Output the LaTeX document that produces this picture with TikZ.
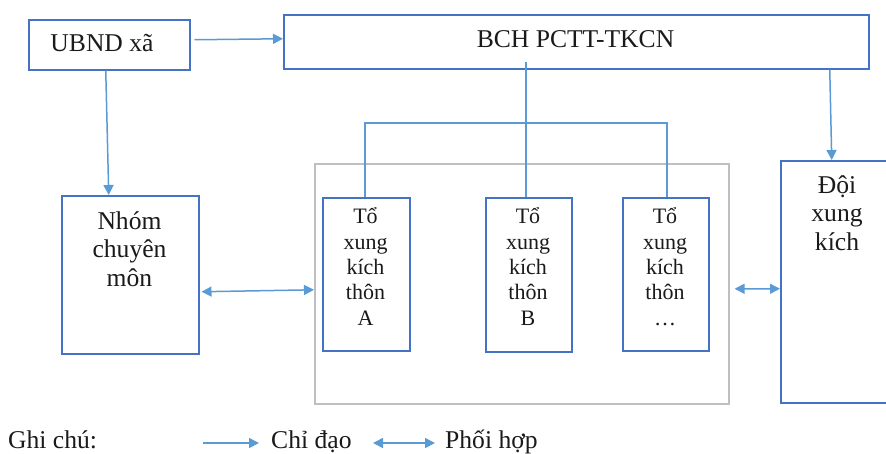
\documentclass[tikz,border=0pt]{standalone}
\usepackage{fontspec}
\setmainfont{Liberation Serif}
\usetikzlibrary{arrows.meta}
\definecolor{boxblue}{HTML}{4472C4}
\definecolor{linkblue}{HTML}{5B9BD5}
\definecolor{framegray}{HTML}{BFBFBF}
\definecolor{ink}{HTML}{1A1A1A}

\begin{document}
\begin{tikzpicture}[x=1pt,y=-1pt,
  box/.style={draw=boxblue, line width=1.5pt, rectangle, inner sep=0, anchor=north west},
  frame/.style={draw=framegray, line width=1.6pt, rectangle, inner sep=0, anchor=north west},
  big/.style={font=\fontsize{25.6}{28.5}\selectfont, text=ink, align=center, inner sep=0, anchor=base},
  small/.style={font=\fontsize{22}{25.3}\selectfont, text=ink, align=center, inner sep=0, anchor=base},
  link/.style={draw=linkblue, line width=1.5pt},
  arr/.style={link, -{Triangle[length=10pt,width=10pt]}},
  dbl/.style={link, {Triangle[length=10pt,width=10pt]}-{Triangle[length=10pt,width=10pt]}},
]
\useasboundingbox (0,0) rectangle (886,453);
\clip (0,0) rectangle (886,453);
\fill[white] (0,0) rectangle (886,453);

% boxes
\node[box, minimum width=161, minimum height=50] (ubnd) at (28,19) {};
\node[box, minimum width=585, minimum height=54] (bch) at (283,14) {};
\node[box, minimum width=137, minimum height=158] (nhom) at (61,195) {};
\node[frame, minimum width=414, minimum height=240] (group) at (314,163) {};
\node[box, minimum width=87, minimum height=153] (ta) at (322,197) {};
\node[box, minimum width=86, minimum height=154] (tb) at (485,197) {};
\node[box, minimum width=86, minimum height=153] (tc) at (622,197) {};
\node[box, minimum width=114, minimum height=242] (doi) at (780,160) {};

% labels (multi-line labels are placed by the baseline of their last line)
\node[big] (ubndt) at (102,51) {UBND xã};
\node[big] (bcht) at (575.5,47) {BCH PCTT-TKCN};
\node[big] (nhomt) at (129.5,286) {Nhóm\\chuyên\\môn};
\node[big] (doit) at (837,250) {Đội\\xung\\kích};
\node[small] (tat) at (365.5,325) {Tổ\\xung\\kích\\thôn\\A};
\node[small] (tbt) at (528,325) {Tổ\\xung\\kích\\thôn\\B};
\node[small] (tct) at (665,325) {Tổ\\xung\\kích\\thôn\\…};

% directing links
\draw[arr] ([xshift=4,yshift=5]ubnd.east) -- ([yshift=3]bch.west);
\draw[arr] ([xshift=-3.5]ubnd.south) -- ([xshift=-21.5]nhom.north);
\draw[arr] ([xshift=253.5]bch.south) -- ([xshift=-6]doi.north);
\coordinate (split) at (525,123);
\draw[link] ([xshift=-50.5,yshift=8]bch.south) -- ([xshift=-3]tb.north);
\draw[link] ([xshift=-1.5]ta.north) |- (split) -| ([xshift=1]tc.north);

% coordination links
\draw[dbl] ([xshift=2,yshift=-17]nhom.east) -- ([yshift=-6]group.west);
\draw[dbl] ([xshift=5,yshift=-5]group.east) -- ([yshift=-7]doi.west);

% legend
\node[big, anchor=base west] (ghichu) at (8,448) {Ghi chú:};
\coordinate (la1) at (203,443);
\coordinate (la2) at (259,443);
\draw[arr] (la1) -- (la2);
\node[big, anchor=base west] (chidao) at (271,448) {Chỉ đạo};
\coordinate (lb1) at (373,443);
\coordinate (lb2) at (435,443);
\draw[dbl] (lb1) -- (lb2);
\node[big, anchor=base west] (phoihop) at (445,448) {Phối hợp};
\end{tikzpicture}
\end{document}
